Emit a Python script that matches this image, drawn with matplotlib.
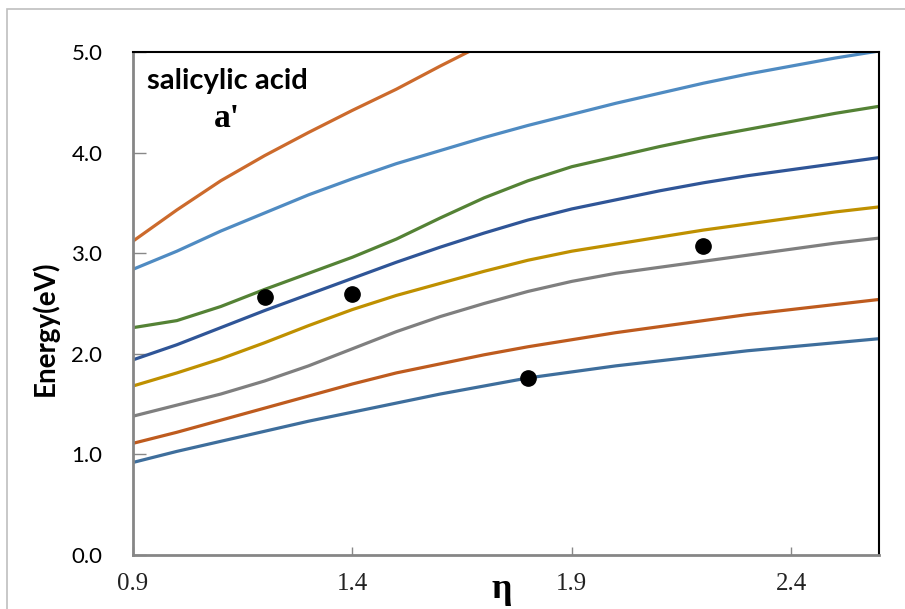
import numpy as np
import matplotlib.pyplot as plt
from matplotlib.patches import Rectangle

# refractive index grid (eta) and excitation energies (eV)
eta = [0.9, 1.0, 1.1, 1.2, 1.3, 1.4, 1.5, 1.6, 1.7, 1.8,
       1.9, 2.0, 2.1, 2.2, 2.3, 2.4, 2.5, 2.6]

s1 = [0.92, 1.03, 1.13, 1.23, 1.33, 1.42, 1.51, 1.60, 1.68, 1.76,
      1.82, 1.88, 1.93, 1.98, 2.03, 2.07, 2.11, 2.15]
s2 = [1.11, 1.22, 1.34, 1.46, 1.58, 1.70, 1.81, 1.90, 1.99, 2.07,
      2.14, 2.21, 2.27, 2.33, 2.39, 2.44, 2.49, 2.54]
s3 = [1.38, 1.49, 1.60, 1.73, 1.88, 2.05, 2.22, 2.37, 2.50, 2.62,
      2.72, 2.80, 2.86, 2.92, 2.98, 3.04, 3.10, 3.15]
s4 = [1.68, 1.81, 1.95, 2.11, 2.28, 2.44, 2.58, 2.70, 2.82, 2.93,
      3.02, 3.09, 3.16, 3.23, 3.29, 3.35, 3.41, 3.46]
s5 = [1.94, 2.09, 2.26, 2.43, 2.59, 2.75, 2.91, 3.06, 3.20, 3.33,
      3.44, 3.53, 3.62, 3.70, 3.77, 3.83, 3.89, 3.95]
s6 = [2.26, 2.33, 2.47, 2.64, 2.80, 2.96, 3.14, 3.35, 3.55, 3.72,
      3.86, 3.96, 4.06, 4.15, 4.23, 4.31, 4.39, 4.46]
s7 = [2.84, 3.02, 3.22, 3.40, 3.58, 3.74, 3.89, 4.02, 4.15, 4.27,
      4.38, 4.49, 4.59, 4.69, 4.78, 4.86, 4.94, 5.01]
eta8 = [0.9, 1.0, 1.1, 1.2, 1.3, 1.4, 1.5, 1.6, 1.7, 1.8]
s8 = [3.12, 3.43, 3.72, 3.97, 4.20, 4.42, 4.63, 4.86, 5.08, 5.28]

# experimental points
exp_eta = [1.2, 1.4, 1.8, 2.2]
exp_E = [2.56, 2.59, 1.76, 3.07]

colors = ['#3E6E9C', '#BE5B1E', '#7F7F7F', '#BF9000',
          '#2F5597', '#548235', '#4F8BC2', '#CC6A2C']

fig = plt.figure(figsize=(9.05, 6.09), dpi=100)
fig.patches.append(Rectangle((7 / 905, -0.1), 1.1, 1 - 9 / 609 + 0.1,
                             transform=fig.transFigure, fill=False,
                             edgecolor='#BFBFBF', linewidth=1.2))
ax = fig.add_axes([133 / 905, 54 / 609, 746 / 905, 503 / 609])

series = [s1, s2, s3, s4, s5, s6, s7]
for ys, c in zip(series, colors[:7]):
    ax.plot(eta, ys, color=c, linewidth=2.3, solid_capstyle='butt')
ax.plot(eta8, s8, color=colors[7], linewidth=2.3, solid_capstyle='butt')

ax.plot(exp_eta, exp_E, 'o', color='black', markersize=11, zorder=5)

ax.set_xlim(0.9, 2.6)
ax.set_ylim(0, 5)
ax.set_xticks([0.9, 1.4, 1.9, 2.4])
ax.set_xticklabels(['0.9', '1.4', '1.9', '2.4'], family='Liberation Serif',
                   fontsize=18, color='#222222')
ax.set_yticks([0, 1, 2, 3, 4, 5])
ax.set_yticklabels(['0.0', '1.0', '2.0', '3.0', '4.0', '5.0'], family='Lato',
                   fontsize=16, color='black')
ax.tick_params(axis='x', direction='in', length=6, width=1, color='#888888', pad=13)
ax.tick_params(axis='y', direction='in', length=9, width=1, color='#888888', pad=22)

for side in ['left', 'bottom']:
    ax.spines[side].set_color('#868686')
    ax.spines[side].set_linewidth(2)
for side in ['top', 'right']:
    ax.spines[side].set_color('black')
    ax.spines[side].set_linewidth(1.5)

ax.text(0.019, 0.943, 'salicylic acid', transform=ax.transAxes, family='Lato',
        fontweight='bold', fontsize=21, va='center', ha='left')
ax.text(0.126, 0.868, "a'", transform=ax.transAxes, family='Liberation Serif',
        fontweight='bold', fontsize=24, va='center', ha='center')

fig.text(45 / 905, 1 - 328 / 609, 'Energy(eV)', rotation=90, family='Lato',
         fontweight='bold', fontsize=20, va='center', ha='center')
fig.text(502 / 905, 1 - 590 / 609, 'η', family='Liberation Serif',
         fontweight='bold', fontsize=26, va='center', ha='center')

fig.savefig('out.png', dpi=100)
